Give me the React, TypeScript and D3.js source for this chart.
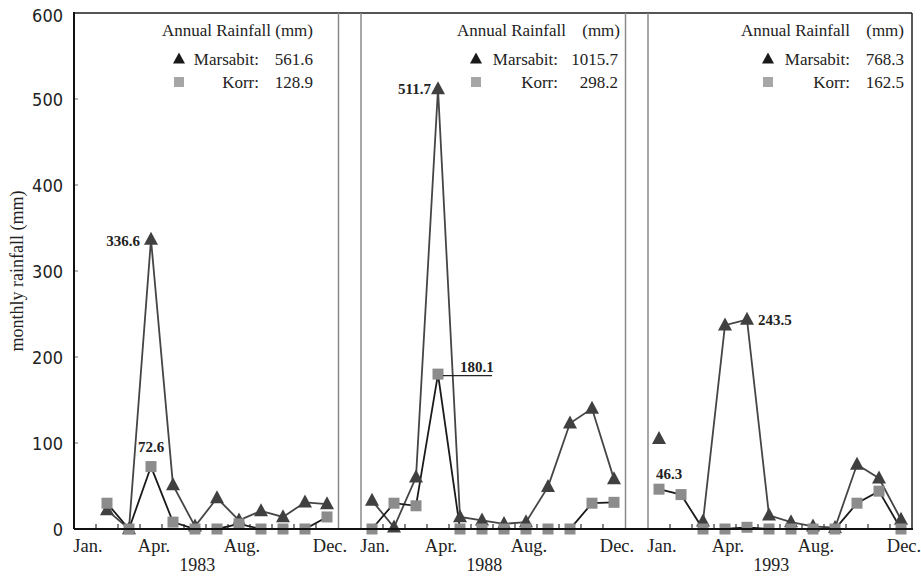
import React from 'react';
import * as d3 from 'd3';

// monthly rainfall (mm), Jan..Dec, null = no record
const years = ['1983', '1988', '1993'];
const marsabit1983 = [null, 22, 0, 336.6, 51, 3, 36, 10, 21, 14, 31, 29];
const korr1983 = [null, 30, 0, 72.6, 8, 0, 0, 6, 0, 0, 0, 14];
const marsabit1988 = [33, 2, 60, 511.7, 14, 10, 6, 8, 49, 123, 140, 58];
const korr1988 = [0, 30, 27, 180.1, 0, 0, 0, 0, 0, 0, 30, 31];
const marsabit1993 = [105, null, 9, 237, 243.5, 16, 8, 3, 1.5, 75, 59, 11];
const korr1993 = [46.3, 40, 0, 0, 2, 0, 0, 0, 0, 30, 44, 0];
const marsabitAnnual = ['561.6', '1015.7', '768.3'];
const korrAnnual = ['128.9', '298.2', '162.5'];
const tickMonths = [1, 4, 8, 12];
const tickNames = ['Jan.', 'Apr.', 'Aug.', 'Dec.'];
const yTicks = [0, 100, 200, 300, 400, 500, 600];

const marsabit = [marsabit1983, marsabit1988, marsabit1993];
const korr = [korr1983, korr1988, korr1993];

// value labels: panel, series, month index
const notes = [
  { p: 0, s: 'm', i: 3, dx: -11, dy: 6, anchor: 'end' },
  { p: 0, s: 'k', i: 3, dx: 0, dy: -15, anchor: 'middle' },
  { p: 1, s: 'm', i: 3, dx: -7, dy: 5, anchor: 'end' },
  { p: 1, s: 'k', i: 3, dx: 22, dy: -2, anchor: 'start', leader: true },
  { p: 2, s: 'm', i: 4, dx: 11, dy: 5, anchor: 'start' },
  { p: 2, s: 'k', i: 0, dx: 10, dy: -10, anchor: 'middle' },
];

// legend placement, offsets from panel right edge
const legendPos = [
  { title: ['Annual Rainfall (mm)'], titleEnd: [-25], lab: -79, val: -25, mark: -159 },
  { title: ['Annual Rainfall', '(mm)'], titleEnd: [-59, -5], lab: -67, val: -7, mark: -149 },
  { title: ['Annual Rainfall', '(mm)'], titleEnd: [-62, -8], lab: -62, val: -8, mark: -144 },
];

const W = 921, H = 576;
const left = 74, top = 13, bottom = 529;
const panelW = 264, gap = 23;
const serif = "'Liberation Serif', 'Times New Roman', serif";
const narrow = "'Liberation Sans Narrow', 'DejaVu Sans Condensed', 'Arial Narrow', sans-serif";

const triPath = (x: number, y: number, w = 13, h = 12) =>
  `M${x},${y - h * 0.6}L${x + w / 2},${y + h * 0.4}L${x - w / 2},${y + h * 0.4}Z`;

export default function App() {
  const y = d3.scaleLinear().domain([0, 600]).range([bottom, top]);
  const panels = years.map((yr, p) => {
    const x0 = left + p * (panelW + gap);
    const x = d3.scaleLinear().domain([0.5, 12.5]).range([x0, x0 + panelW]);
    return { yr, p, x0, x1: x0 + panelW, x };
  });
  const right = panels[2].x1;

  return (
    <svg width={W} height={H} style={{ position: 'absolute', left: 0, top: 0, background: '#fff' }}>
      {/* frame */}
      <line x1={left} x2={right} y1={top} y2={top} stroke="#555" strokeWidth={2} />
      <line x1={right} x2={right} y1={top} y2={bottom} stroke="#222" strokeWidth={1.5} />
      {panels.slice(0, 2).map(pn => (
        <g key={'sep' + pn.p}>
          <line x1={pn.x1 + 0.5} x2={pn.x1 + 0.5} y1={top} y2={bottom} stroke="#8a8a8a" strokeWidth={1.5} />
          <line x1={pn.x1 + gap} x2={pn.x1 + gap} y1={top} y2={bottom} stroke="#8a8a8a" strokeWidth={1.5} />
        </g>
      ))}

      {/* y axis */}
      {yTicks.map(t => (
        <g key={'yt' + t}>
          {t > 0 && t < 600 && <line x1={left} x2={left + 4} y1={y(t)} y2={y(t)} stroke="#888" strokeWidth={1.2} />}
          <text x={63} y={y(t) + 6.5 + (t === 600 ? 2 : 0)} textAnchor="end" fontFamily={narrow} fontSize={18} fill="#222">{t}</text>
        </g>
      ))}
      <text transform={`translate(23,271) rotate(-90)`} textAnchor="middle" fontFamily={serif} fontSize={18} fill="#222">monthly rainfall (mm)</text>

      {panels.map(pn => {
        const { x, p } = pn;
        const line = d3.line<number | null>()
          .defined(d => d !== null)
          .x((d, i) => x(i + 1))
          .y(d => y(d as number));
        const lp = legendPos[p];
        return (
          <g key={'panel' + p}>
            {d3.range(1.5, 12, 1).map(m => (
              <line key={'bt' + m} x1={x(m)} x2={x(m)} y1={bottom} y2={bottom - 5} stroke="#333" strokeWidth={1.2} />
            ))}
            {tickMonths.map((m, i) => (
              <text key={'mn' + m} x={x(m) + 3} y={552} textAnchor="middle" fontFamily={serif} fontSize={18.5} fill="#222">{tickNames[i]}</text>
            ))}
            <text x={x(6.1)} y={571} textAnchor="middle" fontFamily={serif} fontSize={18} fill="#222">{pn.yr}</text>

            <path d={line(marsabit[p]) || ''} fill="none" stroke="#454545" strokeWidth={1.8} />
            <path d={line(korr[p]) || ''} fill="none" stroke="#1a1a1a" strokeWidth={1.8} />
            {marsabit[p].map((v, i) => v === null ? null : (
              <path key={'m' + i} d={triPath(x(i + 1), y(v), 14, 13)} fill="#404040" />
            ))}
            {korr[p].map((v, i) => v === null ? null : (
              <rect key={'k' + i} x={x(i + 1) - 5.5} y={y(v) - 5.5} width={11} height={11} fill="#8c8c8c" />
            ))}

            {/* legend */}
            {lp.title.map((t, i) => (
              <text key={'tt' + i} x={pn.x1 + lp.titleEnd[i]} y={36} textAnchor="end" fontFamily={serif} fontSize={17} fill="#222">{t}</text>
            ))}
            <path d={triPath(pn.x1 + lp.mark, 59, 12, 11)} fill="#1a1a1a" />
            <text x={pn.x1 + lp.lab} y={65} textAnchor="end" fontFamily={serif} fontSize={17} fill="#222">Marsabit:</text>
            <text x={pn.x1 + lp.val} y={65} textAnchor="end" fontFamily={serif} fontSize={17} fill="#222">{marsabitAnnual[p]}</text>
            <rect x={pn.x1 + lp.mark - 5} y={77} width={10} height={10} fill="#a6a6a6" />
            <text x={pn.x1 + lp.lab} y={88} textAnchor="end" fontFamily={serif} fontSize={17} fill="#222">Korr:</text>
            <text x={pn.x1 + lp.val} y={88} textAnchor="end" fontFamily={serif} fontSize={17} fill="#222">{korrAnnual[p]}</text>
          </g>
        );
      })}

      {/* value labels */}
      {notes.map((n, k) => {
        const pn = panels[n.p];
        const v = (n.s === 'm' ? marsabit : korr)[n.p][n.i] as number;
        const px = pn.x(n.i + 1), py = y(v);
        return (
          <g key={'note' + k}>
            {n.leader && <line x1={px + 5} x2={px + 54} y1={py + 1.5} y2={py + 1.5} stroke="#222" strokeWidth={1.2} />}
            <text x={px + n.dx} y={py + n.dy} textAnchor={n.anchor as any} fontFamily={serif} fontWeight="bold" fontSize={15} fill="#222">{v.toFixed(1)}</text>
          </g>
        );
      })}

      {/* axes on top */}
      <line x1={left} x2={left} y1={top - 1} y2={bottom} stroke="#111" strokeWidth={2} />
      <line x1={left} x2={right + 1} y1={bottom} y2={bottom} stroke="#111" strokeWidth={2} />
    </svg>
  );
}
